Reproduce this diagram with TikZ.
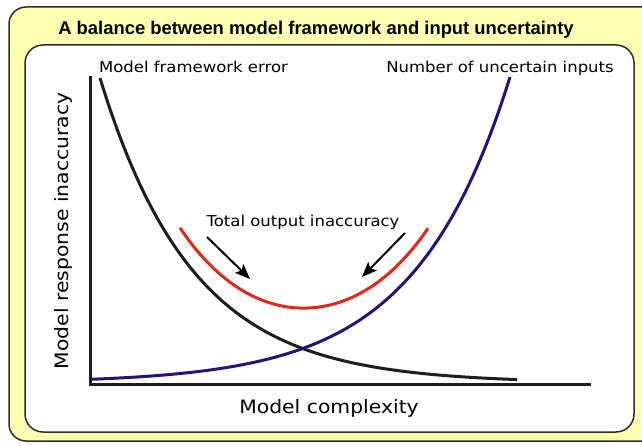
\documentclass[tikz,border=0pt]{standalone}
\usepackage{fontspec}
\setmainfont{DejaVu Sans}[FakeStretch=1.1]
\newfontfamily\titlefont{Liberation Sans}
\usetikzlibrary{arrows.meta}
\definecolor{boxyellow}{RGB}{255,255,178}
\definecolor{framegray}{RGB}{45,45,45}
\definecolor{curveblue}{RGB}{40,18,120}
\definecolor{curvered}{RGB}{222,40,28}
\definecolor{curveblack}{RGB}{30,30,30}
\tikzset{
  outerbox/.style={draw=framegray,line width=1.5pt,fill=boxyellow,rounded corners=17pt},
  innerbox/.style={draw=framegray,line width=1.5pt,fill=white,rounded corners=18pt},
  axisline/.style={draw=curveblack,line width=3pt},
  curve/.style={line width=3pt,line join=round},
  lbl/.style={anchor=base,inner sep=0pt,font=\fontsize{15}{15}\selectfont},
  biglbl/.style={anchor=base,inner sep=0pt,font=\fontsize{18.5}{18.5}\selectfont},
  pointer/.style={draw=black,line width=2pt,-{Stealth[length=15pt,width=12pt,inset=3pt]}}
}
\begin{document}
\begin{tikzpicture}[x=1pt,y=-1pt]
\useasboundingbox (0,0) rectangle (642,446);
\begin{scope}
\clip (0,0) rectangle (642,446);
\path[outerbox] (9,7) rectangle (690,441);
\end{scope}
\path[innerbox] (25,45) rectangle (634,432);
\node[anchor=base,inner sep=0pt,font=\titlefont\bfseries\fontsize{18.4}{18.4}\selectfont] (title) at (316,35) {A balance between model framework and input uncertainty};
% axes
\coordinate (ytop) at (90.5,76);
\coordinate (origin) at (90.5,384);
\coordinate (xend) at (591,384);
\draw[axisline] (ytop) -- (origin) -- (xend);
% curves
\draw[curve,curveblack] plot[domain=100:517,samples=120,smooth] (\x,{383-305*exp(-(\x-100)/93)});
\draw[curve,curveblue] plot[domain=92:510,samples=120,smooth] (\x,{383-306*exp((\x-510)/95)});
\draw[curve,curvered] plot[domain=180:428,samples=100,smooth] (\x,{387.8-1.155*(305*exp(-(\x-100)/93)+306*exp((\x-510)/95))});
% labels
\node[lbl] (mfe) at (193.5,73) {Model framework error};
\node[lbl] (nui) at (500,73) {Number of uncertain inputs};
\node[lbl] (toi) at (303,227) {Total output inaccuracy};
\node[biglbl] (xl) at (329,413) {Model complexity};
\node[biglbl,rotate=90] (yl) at (68,231) {Model response inaccuracy};
% pointers
\coordinate (p1s) at (207,237);
\coordinate (p1e) at (250,279);
\coordinate (p2s) at (405,233);
\coordinate (p2e) at (362,277);
\draw[pointer] (p1s) -- (p1e);
\draw[pointer] (p2s) -- (p2e);
\end{tikzpicture}
\end{document}
